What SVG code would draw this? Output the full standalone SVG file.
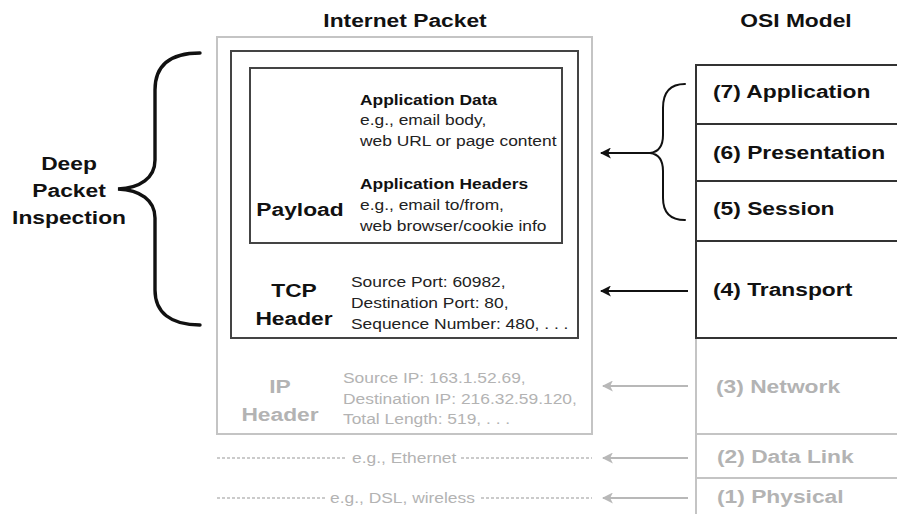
<svg xmlns="http://www.w3.org/2000/svg" width="897" height="514" viewBox="0 0 897 514">
<style>
.t{font-family:"Liberation Sans",Arial,sans-serif}
.L{font-weight:bold;font-size:19px;fill:#111}
.S{font-size:14.5px;fill:#222}
.SB{font-weight:bold;font-size:14.5px;fill:#111}
.gt{fill:#b3b3b3}
.dk{fill:none;stroke:#444;stroke-width:2}
.lt{fill:none;stroke:#c4c4c4;stroke-width:2}
.osi{stroke:#333;stroke-width:2}
.osig{stroke:#c4c4c4;stroke-width:2}
.brace{fill:none;stroke:#111;stroke-linecap:round}
.arr{stroke:#111;stroke-width:2;fill:none}
.arrg{stroke:#b8b8b8;stroke-width:2;fill:none}
.dash{stroke:#bbb;stroke-width:1.5;stroke-dasharray:3 2;fill:none}
</style>
<defs>
<marker id="ah" viewBox="0 0 10 10" refX="9" refY="5" markerWidth="5.5" markerHeight="5.5" orient="auto-start-reverse" markerUnits="strokeWidth">
<path d="M0,0 L10,5 L0,10 L2.5,5 Z" fill="#111"/>
</marker>
<marker id="ahg" viewBox="0 0 10 10" refX="9" refY="5" markerWidth="5.5" markerHeight="5.5" orient="auto-start-reverse" markerUnits="strokeWidth">
<path d="M0,0 L10,5 L0,10 L2.5,5 Z" fill="#b8b8b8"/>
</marker>
</defs>
<rect width="897" height="514" fill="#fff"/>

<g id="titles">
<text class="t L" text-anchor="middle" transform="translate(405,27) scale(1.2,1)">Internet Packet</text>
<text class="t L" text-anchor="middle" transform="translate(796,27) scale(1.2,1)">OSI Model</text>
</g>

<g id="dpi-label">
<text class="t L" text-anchor="middle" transform="translate(69,170) scale(1.2,1)"><tspan x="0" y="0">Deep</tspan><tspan x="0" y="27">Packet</tspan><tspan x="0" y="54">Inspection</tspan></text>
<path class="brace" stroke-width="3.4" d="M200,53 C170,53 155,65 155,90 L155,160 C155,178 140,188 118,189 C140,190 155,200 155,218 L155,290 C155,312 170,325 200,325"/>
</g>

<g id="packet">
<rect class="lt" x="217" y="37" width="375" height="397"/>
</g>

<g id="ip-header">
<text class="t L gt" text-anchor="middle" transform="translate(280,393) scale(1.2,1)"><tspan x="0" y="0">IP</tspan><tspan x="0" y="28">Header</tspan></text>
<text class="t S gt" transform="translate(343,383) scale(1.2,1)"><tspan x="0" y="0">Source IP: 163.1.52.69,</tspan><tspan x="0" y="21">Destination IP: 216.32.59.120,</tspan><tspan x="0" y="41">Total Length: 519, . . .</tspan></text>
</g>

<g id="tcp-header">
<rect class="dk" x="231" y="51" width="347" height="287"/>
<text class="t L" text-anchor="middle" transform="translate(294,297) scale(1.2,1)"><tspan x="0" y="0">TCP</tspan><tspan x="0" y="28">Header</tspan></text>
<text class="t S" transform="translate(351,287) scale(1.2,1)"><tspan x="0" y="0">Source Port: 60982,</tspan><tspan x="0" y="21">Destination Port: 80,</tspan><tspan x="0" y="42">Sequence Number: 480, . . .</tspan></text>
</g>

<g id="payload">
<rect class="dk" x="250" y="68" width="312" height="175"/>
<text class="t L" text-anchor="middle" transform="translate(300,216) scale(1.2,1)">Payload</text>
<text class="t SB" transform="translate(360,105) scale(1.2,1)">Application Data</text>
<text class="t S" transform="translate(360,125) scale(1.2,1)"><tspan x="0" y="0">e.g., email body,</tspan><tspan x="0" y="21">web URL or page content</tspan></text>
<text class="t SB" transform="translate(360,189) scale(1.2,1)">Application Headers</text>
<text class="t S" transform="translate(360,210) scale(1.2,1)"><tspan x="0" y="0">e.g., email to/from,</tspan><tspan x="0" y="21">web browser/cookie info</tspan></text>
</g>

<g id="osi-model">
<line class="osi" x1="696" y1="64" x2="696" y2="339"/>
<line class="osig" x1="696" y1="339" x2="696" y2="514"/>
<line class="osi" x1="695" y1="65" x2="897" y2="65"/>
<line class="osi" x1="695" y1="124" x2="897" y2="124"/>
<line class="osi" x1="695" y1="181" x2="897" y2="181"/>
<line class="osi" x1="695" y1="241" x2="897" y2="241"/>
<line class="osi" x1="695" y1="338" x2="897" y2="338"/>
<line class="osig" x1="697" y1="434" x2="897" y2="434"/>
<line class="osig" x1="697" y1="478" x2="897" y2="478"/>
<text class="t L" transform="translate(713,98) scale(1.2,1)">(7) Application</text>
<text class="t L" transform="translate(713,159) scale(1.2,1)">(6) Presentation</text>
<text class="t L" transform="translate(713,215) scale(1.2,1)">(5) Session</text>
<text class="t L" transform="translate(713,296) scale(1.2,1)">(4) Transport</text>
<text class="t L gt" transform="translate(716,393) scale(1.2,1)">(3) Network</text>
<text class="t L gt" transform="translate(717,463) scale(1.2,1)">(2) Data Link</text>
<text class="t L gt" transform="translate(717,503) scale(1.2,1)">(1) Physical</text>
</g>

<g id="lower-layers">
<line class="dash" x1="217" y1="458" x2="347" y2="458"/>
<text class="t S gt" transform="translate(352,463) scale(1.2,1)">e.g., Ethernet</text>
<line class="dash" x1="461" y1="458" x2="592" y2="458"/>
<line class="dash" x1="217" y1="498" x2="325" y2="498"/>
<text class="t S gt" transform="translate(330,503) scale(1.2,1)">e.g., DSL, wireless</text>
<line class="dash" x1="481" y1="498" x2="592" y2="498"/>
</g>

<g id="connectors">
<path class="brace" stroke-width="2" d="M685,84 C670,84 663,92 663,108 L663,135 C663,146 658,152 650,153 C658,154 663,160 663,171 L663,198 C663,212 670,220 685,220"/>
<line class="arr" x1="650" y1="153" x2="601" y2="153" marker-end="url(#ah)"/>
<line class="arr" x1="688" y1="291" x2="601" y2="291" marker-end="url(#ah)"/>
<line class="arrg" x1="688" y1="386" x2="603" y2="386" marker-end="url(#ahg)"/>
<line class="arrg" x1="688" y1="458" x2="603" y2="458" marker-end="url(#ahg)"/>
<line class="arrg" x1="688" y1="498" x2="603" y2="498" marker-end="url(#ahg)"/>
</g>
</svg>
